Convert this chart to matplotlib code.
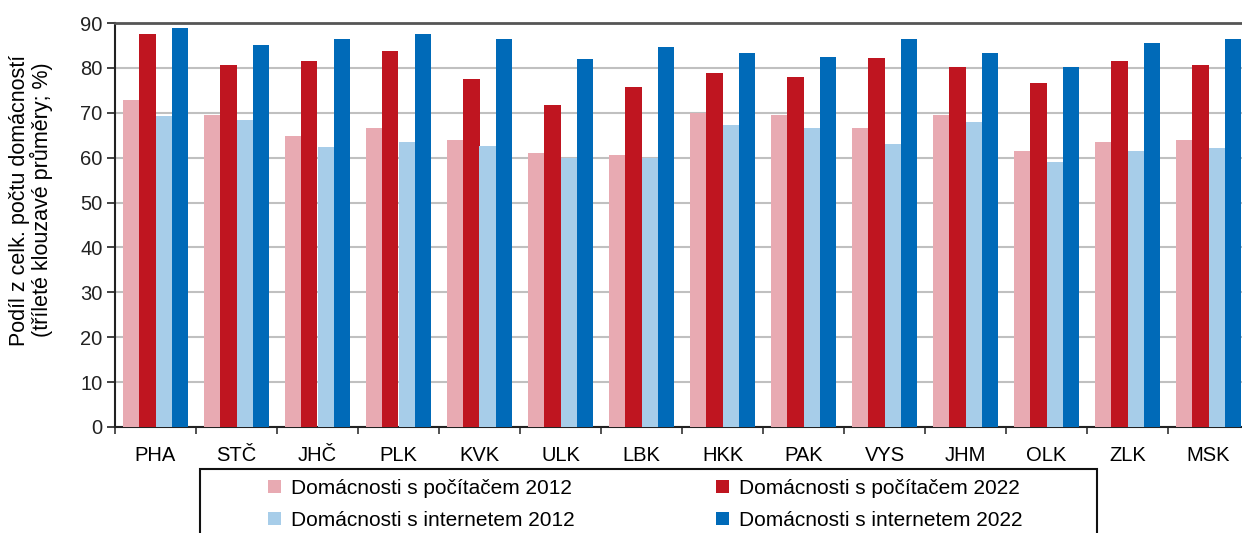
import matplotlib
matplotlib.use("Agg")
import matplotlib.pyplot as plt
import matplotlib.patches as mpatches
import numpy as np

plt.rcParams['font.family'] = ['Liberation Sans', 'DejaVu Sans']

regions = ["PHA", "STČ", "JHČ", "PLK", "KVK", "ULK", "LBK", "HKK", "PAK", "VYS", "JHM", "OLK", "ZLK", "MSK"]
pc_2012 = [72.9, 69.4, 64.8, 66.6, 64.0, 61.0, 60.5, 69.9, 69.4, 66.6, 69.4, 61.4, 63.6, 64.0]
pc_2022 = [87.6, 80.6, 81.5, 83.7, 77.5, 71.8, 75.8, 78.8, 77.9, 82.3, 80.1, 76.7, 81.5, 80.6]
net_2012 = [69.3, 68.3, 62.3, 63.6, 62.7, 60.0, 60.0, 67.2, 66.6, 63.0, 68.0, 59.1, 61.4, 62.2]
net_2022 = [88.8, 85.1, 86.4, 87.5, 86.4, 82.0, 84.6, 83.3, 82.4, 86.4, 83.3, 80.1, 85.5, 86.4]

series = [
    ("Domácnosti s počítačem 2012", pc_2012, "#E8AAB2"),
    ("Domácnosti s počítačem 2022", pc_2022, "#BF1520"),
    ("Domácnosti s internetem 2012", net_2012, "#A7CDE9"),
    ("Domácnosti s internetem 2022", net_2022, "#006AB8"),
]

W, H = 1242, 533
fig = plt.figure(figsize=(W / 100, H / 100), dpi=100)
ax = fig.add_axes([115 / W, (533 - 427) / H, 1134 / W, (427 - 23) / H])

x = np.arange(len(regions))
bw = 0.2
handles = []
for i, (name, vals, col) in enumerate(series):
    b = ax.bar(x + (i - 1.5) * bw, vals, width=bw, color=col, zorder=3, label=name)
    handles.append(b)

ax.set_xlim(-0.5, len(regions) - 0.5)
ax.set_ylim(0, 90)
ax.set_yticks(np.arange(0, 91, 10))
ax.yaxis.grid(True, color="#C0C0C0", linewidth=1.5, zorder=0)
ax.set_axisbelow(True)

ax.set_xticks(x)
ax.set_xticklabels(regions, fontsize=14.5)
ax.set_xticks(np.arange(-0.5, len(regions), 1), minor=True)
ax.tick_params(axis="x", which="major", length=0, pad=14)
ax.tick_params(axis="x", which="minor", length=5, width=1.2, direction="out", color="#333333")
ax.tick_params(axis="y", length=6, width=1.2, direction="out", labelsize=14.5, pad=3, colors="#222222")

for s in ["left", "bottom"]:
    ax.spines[s].set_color("#222222")
    ax.spines[s].set_linewidth(1.5)
ax.spines["top"].set_color("#555555")
ax.spines["top"].set_linewidth(2)
ax.spines["right"].set_visible(False)

ax.set_ylabel("Podíl z celk. počtu domácností\n(tříleté klouzavé průměry; %)", fontsize=15.5, linespacing=1.0)
ax.yaxis.set_label_coords((53 - 115) / 1134, (427 - 200) / 404)

# legend frame
frame = mpatches.Rectangle((200 / W, -0.05), 897 / W, (533 - 469) / H + 0.05,
                           transform=fig.transFigure, fill=False, edgecolor="#111111",
                           linewidth=1.5, clip_on=False)
fig.add_artist(frame)

order = [0, 2, 1, 3]
fig.legend(handles=[handles[i] for i in order], labels=[series[i][0] for i in order],
           ncol=2, frameon=False,
           loc="upper left", bbox_to_anchor=(268 / W, (533 - 479) / H),
           fontsize=15, handlelength=0.6, handleheight=0.6, handletextpad=0.5,
           columnspacing=6.8, labelspacing=0.6, borderaxespad=0, borderpad=0)

fig.savefig("out.png", dpi=100)
